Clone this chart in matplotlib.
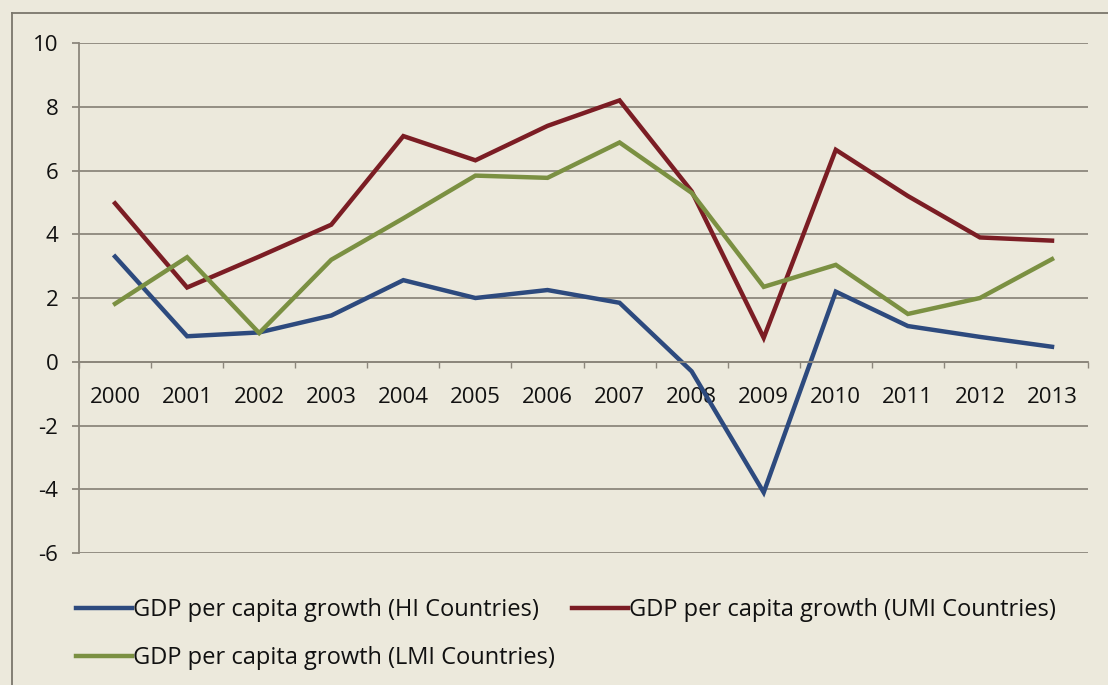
import numpy as np
import matplotlib
matplotlib.use("Agg")
import matplotlib.pyplot as plt
from matplotlib.lines import Line2D

years = ["2000", "2001", "2002", "2003", "2004", "2005", "2006",
         "2007", "2008", "2009", "2010", "2011", "2012", "2013"]

# GDP per capita growth (%) by income group
hi_growth = [3.3, 0.8, 0.92, 1.45, 2.56, 2.0, 2.25, 1.85, -0.3, -4.1,
             2.2, 1.12, 0.78, 0.47]
umi_growth = [4.97, 2.33, 3.3, 4.3, 7.08, 6.32, 7.4, 8.2, 5.35, 0.75,
              6.65, 5.2, 3.9, 3.8]
lmi_growth = [1.82, 3.28, 0.9, 3.2, 4.5, 5.84, 5.77, 6.88, 5.3, 2.35,
              3.04, 1.5, 2.0, 3.22]

series_labels = ["GDP per capita growth (HI Countries)",
                 "GDP per capita growth (UMI Countries)",
                 "GDP per capita growth (LMI Countries)"]

paper = "#ECE9DC"
grid_col = "#8C877C"
col_hi = "#2D4A7E"
col_umi = "#7B1D24"
col_lmi = "#7B9042"
text_col = "#111111"

plt.rcParams["font.family"] = ["Open Sans", "DejaVu Sans"]
plt.rcParams["axes.unicode_minus"] = False

fig = plt.figure(figsize=(11.08, 6.85), dpi=100, facecolor=paper)
ax = fig.add_axes([0.0713, 0.1927, 0.9107, 0.7445])
ax.set_facecolor(paper)

x = np.arange(len(years))
h_hi, = ax.plot(x, hi_growth, color=col_hi, lw=3.2, solid_joinstyle="miter",
                label=series_labels[0])
h_umi, = ax.plot(x, umi_growth, color=col_umi, lw=3.2, solid_joinstyle="miter",
                 label=series_labels[1])
h_lmi, = ax.plot(x, lmi_growth, color=col_lmi, lw=3.2, solid_joinstyle="miter",
                 label=series_labels[2])

ax.set_xlim(-0.5, len(years) - 0.5)
ax.set_ylim(-6, 10)
ax.set_yticks(np.arange(-6, 11, 2))
ax.yaxis.grid(True, color=grid_col, lw=1.3)
ax.set_axisbelow(True)

# category axis crosses at zero, ticks between categories
for side in ["top", "right"]:
    ax.spines[side].set_visible(False)
ax.spines["bottom"].set_position(("data", 0))
ax.spines["bottom"].set_color(grid_col)
ax.spines["bottom"].set_linewidth(1.3)
ax.spines["left"].set_color(grid_col)
ax.spines["left"].set_linewidth(1.3)

ax.set_xticks(x, labels=years)
ax.set_xticks(np.arange(-0.5, len(years), 1), minor=True)
ax.tick_params(axis="x", which="major", length=0, pad=18, labelsize=16,
               colors=text_col)
ax.tick_params(axis="x", which="minor", length=4, width=1, color=grid_col,
               direction="out")
ax.tick_params(axis="y", length=5, width=1.3, color=grid_col, pad=10,
               labelsize=16, labelcolor=text_col)

fig.legend(handles=[h_hi, h_lmi, h_umi],
           labels=[series_labels[0], series_labels[2], series_labels[1]],
           ncol=2, loc="upper left", bbox_to_anchor=(0.058, 0.144),
           frameon=False, fontsize=17, handlelength=2.35, handletextpad=0.05,
           columnspacing=0.75, labelspacing=1.0, borderpad=0,
           labelcolor=text_col)

# outer chart frame (left and top edges)
fig.add_artist(Line2D([12 / 1108, 12 / 1108], [0, 1 - 13 / 685],
                      transform=fig.transFigure, color="#7A766C", lw=1.3))
fig.add_artist(Line2D([12 / 1108, 1], [1 - 13 / 685, 1 - 13 / 685],
                      transform=fig.transFigure, color="#7A766C", lw=1.3))

fig.savefig("out.png", dpi=100, facecolor=paper)
